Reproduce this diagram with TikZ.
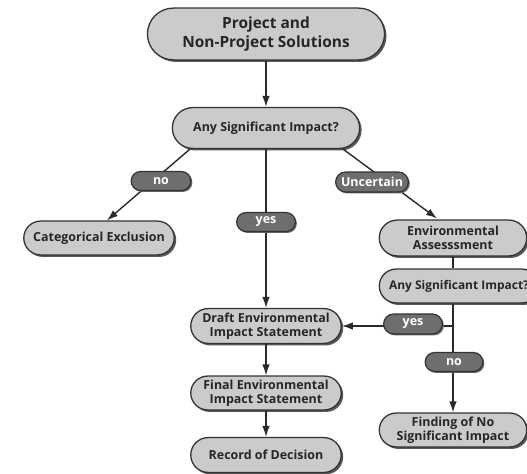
\documentclass[tikz,border=0pt]{standalone}
\usepackage{fontspec}
\setmainfont{Open Sans}
\usetikzlibrary{shapes.misc,shadows,arrows.meta,calc}
\definecolor{boxfill}{HTML}{CBCBCB}
\definecolor{boxline}{HTML}{333333}
\definecolor{labfill}{HTML}{6E6E6E}
\begin{document}
\begin{tikzpicture}[x=1bp,y=-1bp,
  box/.style={rounded rectangle, draw=boxline, line width=1.3pt, fill=boxfill,
    text=black!85, font=\fontsize{12.5}{14.5}\selectfont\bfseries, align=center,
    inner xsep=2pt, inner ysep=1pt,
    drop shadow={shadow xshift=2pt, shadow yshift=-2pt, fill=black!65, opacity=1}},
  lab/.style={rounded rectangle, draw=boxline, line width=1.2pt, fill=labfill,
    text=white, font=\fontsize{12.5}{14}\selectfont\bfseries, inner xsep=2pt, inner ysep=0pt,
    drop shadow={shadow xshift=1.5pt, shadow yshift=-1.5pt, fill=black!60, opacity=1}},
  conn/.style={line width=1.4pt, draw=boxline!80!black},
  arr/.style={conn, -{Latex[length=11pt,width=7.5pt]}}
]
\useasboundingbox (0,0) rectangle (527,474);
\clip (0,0) rectangle (527,474);
\fill[white] (0,0) rectangle (527,474);

% nodes
\node[box, minimum width=242, minimum height=52, font=\fontsize{15.5}{18.5}\selectfont\bfseries] (top) at (266,34) {Project and\\Non-Project Solutions};
\node[box, minimum width=192, minimum height=41] (q1) at (266,128) {Any Significant Impact?};
\node[box, minimum width=155, minimum height=34] (cat) at (99,238) {Categorical Exclusion};
\node[box, minimum width=152, minimum height=36] (env) at (453,238) {Environmental\\Assesssment};
\node[box, minimum width=164, minimum height=34, font=\fontsize{12}{14}\selectfont\bfseries] (q2) at (459,286) {Any Significant Impact?};
\node[box, minimum width=155, minimum height=35] (draft) at (266,326) {Draft Environmental\\Impact Statement};
\node[box, minimum width=155, minimum height=34] (final) at (266,393) {Final Environmental\\Impact Statement};
\node[box, minimum width=155, minimum height=35] (rec) at (266,455) {Record of Decision};
\node[box, minimum width=152, minimum height=34] (find) at (453,430) {Finding of No\\Significant Impact};

% connectors
\draw[arr] (top.south) -- (q1.north);
\draw[arr] ($(q1.south)+(-76,0)$) -- ($(cat.north)+(8,0)$);
\draw[arr] ($(q1.south)+(77,0)$) -- ($(env.north)+(-16,-1)$);
\draw[arr] (q1.south) -- (draft.north);
\draw[conn] (env.south) -- (env.south |- q2.north);
\draw[arr] (env.south |- q2.south) -- (find.north);
\draw[arr] (env.south |- draft.east) -- (draft.east);
\draw[arr] (draft.south) -- (final.north);
\draw[arr] (final.south) -- (rec.north);

% labels
\node[lab, minimum width=64, minimum height=19] (lno) at (161,181) {no};
\node[lab, minimum width=77, minimum height=20] (lunc) at (372,182) {Uncertain};
\node[lab, minimum width=63, minimum height=19] (lyes) at (266,222) {yes};
\node[lab, minimum width=63, minimum height=20] (ryes) at (413,324) {yes};
\node[lab, minimum width=62, minimum height=19] (rno) at (454,362) {no};
\end{tikzpicture}
\end{document}
